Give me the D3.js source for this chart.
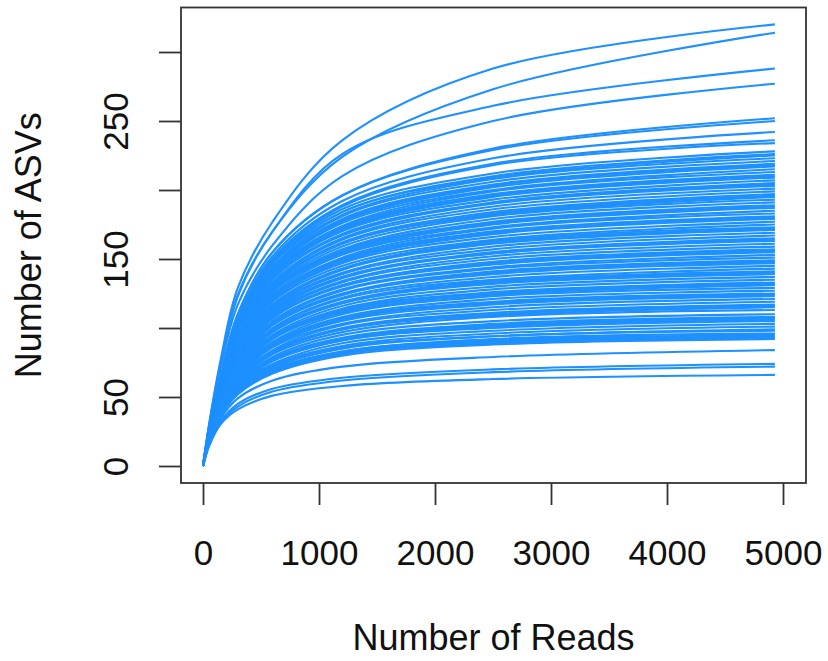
<!DOCTYPE html>
<html>
<head>
<meta charset="utf-8">
<script src="https://cdn.jsdelivr.net/npm/d3@7"></script>
<style>
  body { margin: 0; background: #fff; }
  svg { display: block; font-family: "Liberation Sans", Arial, sans-serif; }
</style>
</head>
<body>
<svg></svg>
<script>
// read counts at which each curve was sampled off the picture
var READS = [0, 50, 150, 300, 600, 1200, 2500, 4930];

// upper separate curves (number of ASVs at each READS value)
var topCurves = [
  [0, 29, 76, 129, 177, 236, 288, 320],
  [0, 28, 74, 124, 170, 224, 273, 314],
  [0, 28, 72, 123, 170, 226, 261, 288],
  [0, 27, 70, 117, 160, 210, 250, 277],
  [0, 25, 64, 110, 155, 196, 230, 252],
  [0, 25, 64, 110, 155, 196, 229, 250],
  [0, 24, 62, 107, 152, 192, 223, 242],
  [0, 24, 61, 105, 150, 189, 219, 236],
  [0, 23, 60, 104, 149, 188, 218, 234]
];

// dense middle band
var bandCurves = [
  [0, 23, 59, 103, 148, 186, 212, 228],
  [0, 23, 59, 102, 147, 184, 210, 226],
  [0, 23, 59, 102, 147, 184, 209, 225],
  [0, 23, 59, 101, 146, 182, 208, 223],
  [0, 23, 59, 101, 144, 181, 206, 221],
  [0, 23, 59, 100, 143, 179, 204, 219],
  [0, 23, 59, 100, 143, 178, 203, 218],
  [0, 23, 58, 99, 142, 177, 202, 217],
  [0, 23, 58, 99, 141, 176, 200, 215],
  [0, 23, 58, 98, 140, 174, 199, 213],
  [0, 23, 58, 97, 139, 173, 197, 211],
  [0, 23, 58, 97, 138, 172, 196, 210],
  [0, 23, 58, 97, 138, 171, 195, 209],
  [0, 23, 58, 96, 137, 170, 193, 207],
  [0, 23, 57, 96, 136, 168, 191, 205],
  [0, 23, 57, 95, 135, 168, 191, 204],
  [0, 23, 57, 95, 135, 167, 190, 203],
  [0, 23, 57, 94, 133, 165, 188, 201],
  [0, 23, 57, 94, 132, 164, 186, 199],
  [0, 23, 56, 93, 131, 162, 184, 197],
  [0, 23, 56, 93, 131, 161, 183, 196],
  [0, 23, 56, 92, 130, 161, 182, 195],
  [0, 23, 56, 92, 129, 159, 181, 193],
  [0, 23, 56, 91, 128, 157, 179, 191],
  [0, 23, 55, 90, 127, 156, 177, 189],
  [0, 23, 55, 90, 126, 155, 176, 188],
  [0, 23, 55, 89, 126, 154, 175, 187],
  [0, 23, 55, 89, 124, 153, 173, 185],
  [0, 23, 55, 88, 123, 151, 172, 183],
  [0, 22, 54, 87, 122, 150, 170, 181],
  [0, 22, 54, 87, 121, 149, 169, 180],
  [0, 22, 54, 87, 121, 148, 168, 179],
  [0, 22, 54, 86, 120, 147, 166, 177],
  [0, 22, 53, 85, 119, 145, 164, 175],
  [0, 22, 53, 84, 117, 143, 163, 173],
  [0, 22, 53, 84, 117, 143, 162, 172],
  [0, 22, 53, 84, 116, 142, 161, 171],
  [0, 22, 53, 83, 115, 140, 159, 169],
  [0, 22, 52, 82, 114, 139, 157, 167],
  [0, 22, 52, 81, 113, 137, 155, 165],
  [0, 22, 52, 81, 112, 137, 154, 164],
  [0, 22, 52, 81, 111, 136, 154, 163],
  [0, 22, 51, 80, 110, 134, 152, 161],
  [0, 22, 51, 79, 109, 133, 150, 159],
  [0, 21, 51, 78, 108, 131, 148, 157],
  [0, 21, 51, 78, 107, 131, 147, 156],
  [0, 21, 50, 78, 107, 130, 146, 155],
  [0, 21, 50, 77, 105, 128, 144, 153],
  [0, 21, 50, 76, 104, 127, 143, 151],
  [0, 21, 49, 75, 103, 125, 141, 149],
  [0, 21, 49, 75, 102, 124, 140, 148],
  [0, 21, 49, 75, 102, 124, 139, 147],
  [0, 21, 49, 74, 100, 122, 137, 145],
  [0, 21, 48, 73, 99, 121, 135, 143],
  [0, 20, 48, 72, 98, 119, 134, 141],
  [0, 20, 48, 72, 97, 118, 133, 140],
  [0, 20, 47, 71, 97, 118, 132, 139],
  [0, 20, 47, 71, 95, 116, 130, 137],
  [0, 20, 47, 70, 94, 114, 128, 135],
  [0, 20, 46, 69, 93, 113, 126, 133],
  [0, 20, 46, 68, 92, 112, 125, 132],
  [0, 20, 46, 68, 92, 111, 124, 131],
  [0, 19, 45, 67, 90, 110, 123, 129],
  [0, 19, 45, 66, 89, 108, 121, 127],
  [0, 19, 44, 66, 88, 107, 119, 125],
  [0, 19, 44, 65, 87, 106, 118, 124],
  [0, 19, 44, 65, 87, 105, 117, 123],
  [0, 19, 44, 64, 86, 103, 115, 121],
  [0, 19, 43, 63, 84, 102, 113, 119],
  [0, 18, 43, 62, 83, 100, 111, 117],
  [0, 18, 42, 62, 83, 99, 110, 116],
  [0, 18, 42, 62, 82, 99, 109, 115],
  [0, 18, 42, 61, 81, 97, 108, 113],
  [0, 18, 41, 60, 79, 95, 105, 110],
  [0, 17, 40, 59, 78, 93, 103, 108],
  [0, 17, 40, 58, 77, 92, 102, 107],
  [0, 17, 40, 58, 76, 91, 101, 106],
  [0, 17, 40, 57, 76, 91, 100, 105],
  [0, 17, 39, 57, 74, 89, 98, 103],
  [0, 17, 39, 56, 73, 87, 96, 101],
  [0, 17, 38, 55, 72, 86, 94, 99],
  [0, 16, 38, 54, 71, 85, 94, 98],
  [0, 16, 37, 53, 70, 83, 92, 96],
  [0, 16, 37, 53, 69, 83, 91, 95],
  [0, 16, 37, 53, 69, 82, 90, 94],
  [0, 16, 36, 52, 68, 81, 89, 93],
  [0, 16, 36, 52, 67, 80, 88, 92]
];

// lower separate curves
var lowCurves = [
  [0, 15, 34, 49, 62, 72, 79, 84],
  [0, 15, 32, 45, 56, 64, 70, 74],
  [0, 14, 31, 43, 54, 62, 68, 72],
  [0, 14, 30, 41, 51, 58, 63, 66]
];

var xTicks = [0, 1000, 2000, 3000, 4000, 5000];
var yTicks = [0, 50, 100, 150, 200, 250, 300];
var yLabelled = [0, 50, 150, 250];

var width = 828;
var height = 661;

var svg = d3.select("svg")
            .attr("width", width)
            .attr("height", height);

// plot box (R style, with 4% padding around the data)
var boxLeft = 181, boxRight = 806, boxTop = 7.5, boxBottom = 483;

var xScale = d3.scaleLinear()
               .domain([0, 5000])
               .range([203, 783]);

var yScale = d3.scaleLinear()
               .domain([0, 300])
               .range([466, 52]);

var curves = topCurves.concat(bandCurves, lowCurves);

var line = d3.line()
             .x((d, i) => xScale(READS[i]))
             .y(d => yScale(d))
             .curve(d3.curveCatmullRom.alpha(0.5));

svg.append("g")
   .selectAll("path")
   .data(curves)
   .enter().append("path")
     .attr("d", line)
     .attr("fill", "none")
     .attr("stroke", "#1E90FF")
     .attr("stroke-width", 2.1);

// box
svg.append("rect")
   .attr("x", boxLeft)
   .attr("y", boxTop)
   .attr("width", boxRight - boxLeft)
   .attr("height", boxBottom - boxTop)
   .attr("fill", "none")
   .attr("stroke", "#333")
   .attr("stroke-width", 1.8);

// x axis
var xAxis = svg.append("g")
   .attr("transform", "translate(0," + boxBottom + ")")
   .call(d3.axisBottom(xScale)
      .tickValues(xTicks)
      .tickSize(22)
      .tickFormat(d3.format("d")));

xAxis.select(".domain").remove();
xAxis.selectAll("line").attr("stroke", "#333").attr("stroke-width", 1.8);
xAxis.selectAll("text")
     .attr("y", 82)
     .attr("dy", 0)
     .attr("fill", "#111")
     .style("font-size", "35px")
     .style("font-family", "'Liberation Sans', Arial, sans-serif");

// y axis, labels rotated like R's default las = 0
var yAxis = svg.append("g")
   .attr("transform", "translate(" + boxLeft + ",0)")
   .call(d3.axisLeft(yScale)
      .tickValues(yTicks)
      .tickSize(22)
      .tickFormat(d => yLabelled.indexOf(d) >= 0 ? d : ""));

yAxis.select(".domain").remove();
yAxis.selectAll("line").attr("stroke", "#333").attr("stroke-width", 1.8);
yAxis.selectAll("text")
     .attr("x", 0)
     .attr("dy", 0)
     .attr("transform", "translate(-53,0) rotate(-90)")
     .attr("text-anchor", "middle")
     .attr("fill", "#111")
     .style("font-size", "35px")
     .style("font-family", "'Liberation Sans', Arial, sans-serif");

// text label for the x axis
svg.append("text")
   .attr("x", (boxLeft + boxRight) / 2)
   .attr("y", 650)
   .attr("text-anchor", "middle")
   .attr("fill", "#111")
   .style("font-size", "36px")
   .text("Number of Reads");

// text label for the y axis
svg.append("text")
   .attr("transform", "translate(41," + ((boxTop + boxBottom) / 2) + ") rotate(-90)")
   .attr("text-anchor", "middle")
   .attr("fill", "#111")
   .style("font-size", "36px")
   .text("Number of ASVs");
</script>
</body>
</html>
